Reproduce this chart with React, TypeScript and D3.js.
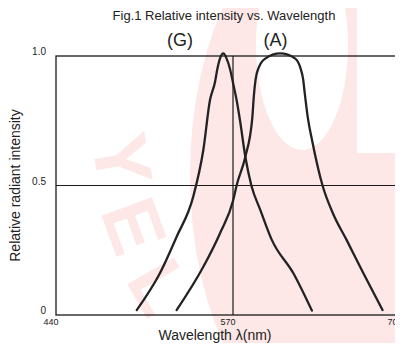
import { useEffect, useRef } from 'react';
import * as d3 from 'd3';

// tick labels
const xTicks = [440, 570, 700];
const yTicks = [0, 0.5, 1.0];
const yTickText = ['0', '0.5', '1.0'];

// (G) curve
const gWave = [499.3, 516.4, 528.6, 540.8, 548.2, 553.1, 556.8, 558.5, 560.6, 562.9, 565.3, 567.8, 570.3, 572.8, 575.4, 579.6, 584.3, 591.3, 600.2, 617, 631.4];
const gValue = [0.019, 0.162, 0.302, 0.457, 0.637, 0.83, 0.9, 0.95, 0.993, 1.01, 0.99, 0.95, 0.89, 0.83, 0.753, 0.611, 0.5, 0.405, 0.29, 0.161, 0.017];

// (A) curve
const aWave = [528.6, 548.2, 560.4, 570.2, 572.8, 579.6, 585, 586.3, 587.6, 590, 595.1, 606.7, 618.5, 622.4, 624.6, 626, 628.3, 631.5, 639.7, 648, 658.4, 671.5, 686.4];
const aValue = [0.019, 0.186, 0.315, 0.444, 0.5, 0.611, 0.76, 0.85, 0.91, 0.955, 0.99, 1.01, 0.99, 0.955, 0.91, 0.85, 0.76, 0.676, 0.5, 0.39, 0.29, 0.161, 0.019];

const labels = [
  { text: '(G)', wave: 531 },
  { text: '(A)', wave: 603 },
];

// watermark letters
const wmLetters = ['Y', 'E', 'L'];

const W = 403, H = 351;
const font = "'Liberation Sans', Arial, sans-serif";
const pink = '#fde7e7';

const App = () => {
  const svgRef = useRef<SVGSVGElement>(null);

  useEffect(() => {
    const svg = d3.select(svgRef.current);
    svg.selectAll('*').remove();

    const x = d3.scaleLinear().domain([440, 570, 700]).range([56, 233, 400]);
    const y = d3.scaleLinear().domain([0, 1]).range([315, 56]);

    // faint watermark
    const wm = svg.append('g');
    wm.append('ellipse').attr('cx', 330).attr('cy', 175).attr('rx', 140).attr('ry', 260).attr('fill', pink);
    wm.append('ellipse').attr('cx', 302).attr('cy', 45).attr('rx', 46).attr('ry', 105).attr('fill', '#fff');
    wm.append('rect').attr('x', 357).attr('y', 0).attr('width', 40).attr('height', 153).attr('fill', '#fff');
    const pos = [[122, 160, 80], [134, 226, 70], [160, 287, 60]];
    wm.selectAll('.wl').data(wmLetters).enter().append('text')
      .attr('transform', (d, i) => `translate(${pos[i][0]},${pos[i][1]}) rotate(${pos[i][2]})`)
      .attr('text-anchor', 'middle').attr('dominant-baseline', 'central')
      .attr('font-family', font).attr('font-size', 78).attr('font-weight', 'bold')
      .attr('fill', pink)
      .text(d => d);

    svg.append('text')
      .attr('x', 224).attr('y', 20)
      .attr('text-anchor', 'middle')
      .attr('font-family', font).attr('font-size', 13).attr('fill', '#222')
      .text('Fig.1 Relative intensity vs. Wavelength');

    const lineColor = '#1a1a1a';

    // frame + grid lines
    svg.append('rect')
      .attr('x', x(440)).attr('y', y(1))
      .attr('width', x(700) - x(440)).attr('height', y(0) - y(1))
      .attr('fill', 'none').attr('stroke', lineColor).attr('stroke-width', 1.3);
    svg.append('line')
      .attr('x1', x(570)).attr('x2', x(570)).attr('y1', y(0)).attr('y2', y(1))
      .attr('stroke', lineColor).attr('stroke-width', 1.2);
    svg.append('line')
      .attr('x1', x(440)).attr('x2', x(700)).attr('y1', y(0.5)).attr('y2', y(0.5))
      .attr('stroke', lineColor).attr('stroke-width', 1.2);

    // tick labels
    svg.selectAll('.xt').data(xTicks).enter().append('text')
      .attr('x', d => x(d) - 5).attr('y', 325)
      .attr('text-anchor', 'middle')
      .attr('font-family', font).attr('font-size', 9).attr('fill', '#222')
      .text(d => d);
    svg.selectAll('.yt').data(yTicks).enter().append('text')
      .attr('x', 46).attr('y', d => y(d) - 1)
      .attr('text-anchor', 'end')
      .attr('font-family', font).attr('font-size', 10).attr('fill', '#222')
      .text((d, i) => yTickText[i]);

    // axis titles
    svg.append('text')
      .attr('x', 215).attr('y', 340)
      .attr('text-anchor', 'middle')
      .attr('font-family', font).attr('font-size', 14).attr('fill', '#222')
      .text('Wavelength λ(nm)');
    svg.append('text')
      .attr('transform', `translate(20,${(y(0) + y(1)) / 2}) rotate(-90)`)
      .attr('text-anchor', 'middle')
      .attr('font-family', font).attr('font-size', 14).attr('fill', '#222')
      .text('Relative radiant intensity');

    // curves
    const line = d3.line<[number, number]>()
      .x(d => x(d[0]))
      .y(d => y(d[1]))
      .curve(d3.curveMonotoneX);

    const series = [
      d3.zip(gWave, gValue) as [number, number][],
      d3.zip(aWave, aValue) as [number, number][],
    ];
    svg.selectAll('.curve').data(series).enter().append('path')
      .attr('d', d => line(d))
      .attr('fill', 'none')
      .attr('stroke', '#222')
      .attr('stroke-width', 2.3)
      .attr('stroke-linecap', 'round');

    // curve labels
    svg.selectAll('.lab').data(labels).enter().append('text')
      .attr('x', d => x(d.wave)).attr('y', 46)
      .attr('text-anchor', 'middle')
      .attr('font-family', font).attr('font-size', 18).attr('fill', '#222')
      .text(d => d.text);
  }, []);

  return (
    <div style={{ width: W, height: H, margin: -8, background: '#fff', overflow: 'hidden' }}>
      <svg ref={svgRef} width={W} height={H}></svg>
    </div>
  );
};

export default App;
